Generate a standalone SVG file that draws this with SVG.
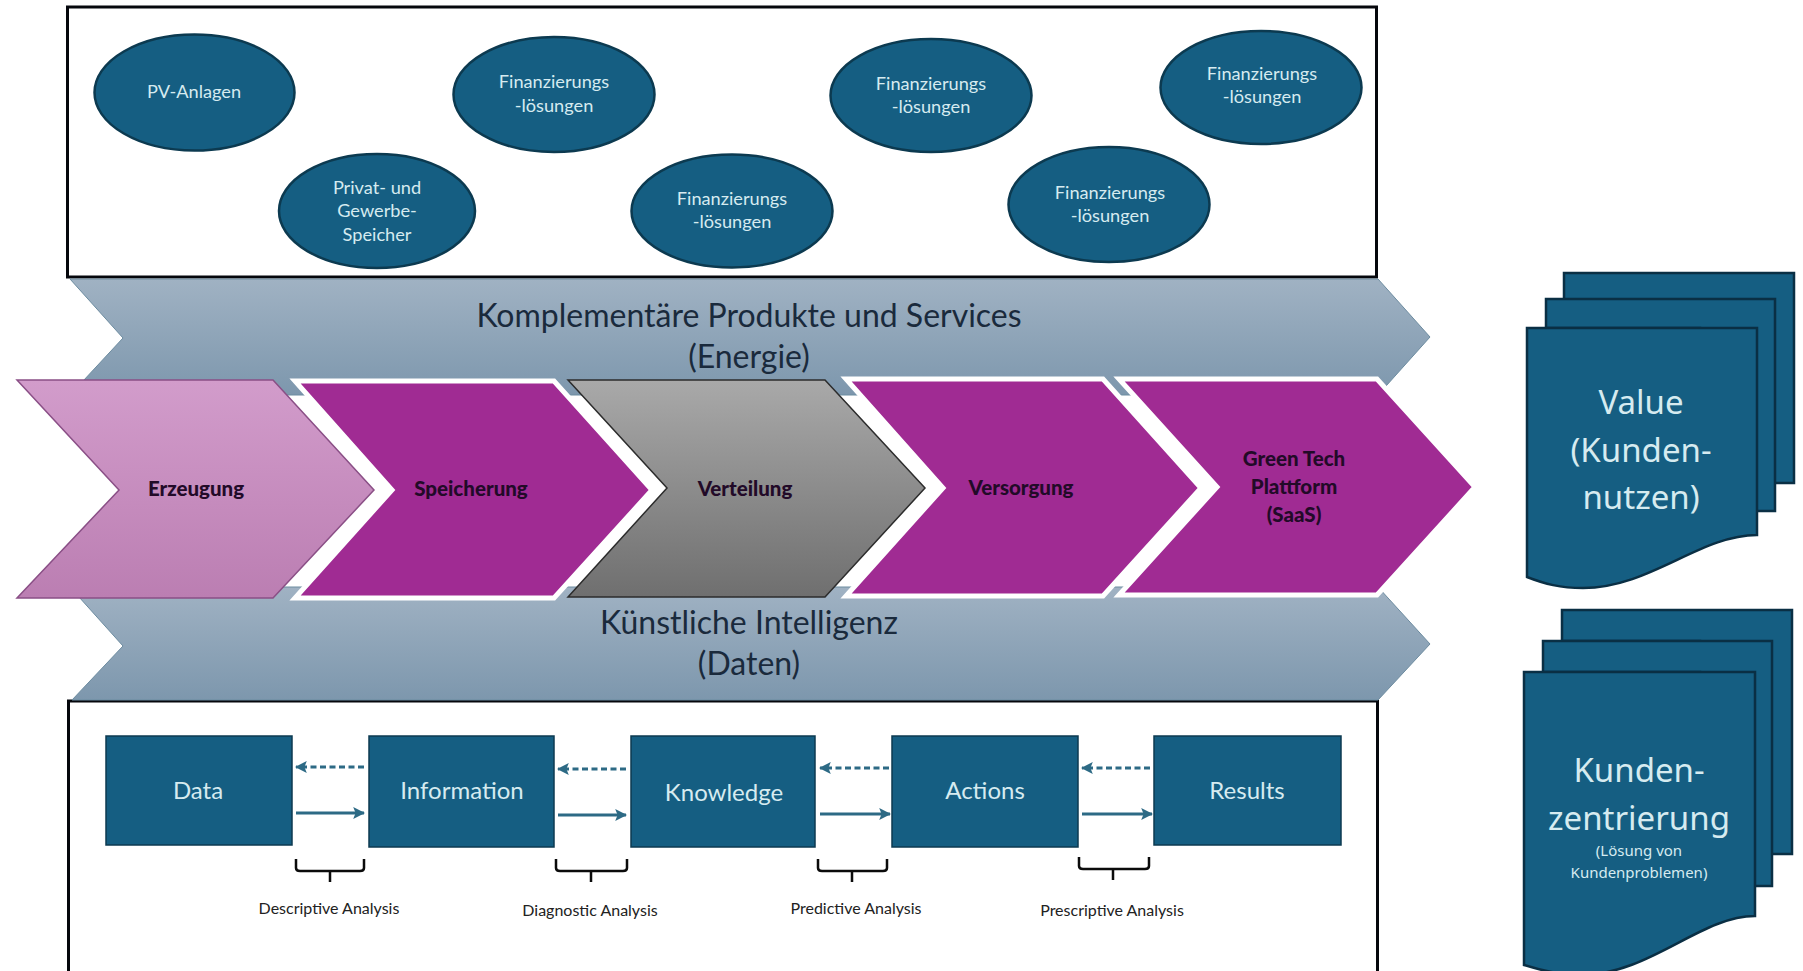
<svg xmlns="http://www.w3.org/2000/svg" width="1803" height="971" viewBox="0 0 1803 971">
<defs>
<linearGradient id="band" x1="0" y1="0" x2="0" y2="1"><stop offset="0" stop-color="#a0b2c3"/><stop offset="1" stop-color="#7d97ad"/></linearGradient>
<linearGradient id="pink" x1="0" y1="0" x2="0" y2="1"><stop offset="0" stop-color="#d29ccb"/><stop offset="1" stop-color="#bb7eb2"/></linearGradient>
<linearGradient id="gray" x1="0" y1="0" x2="0" y2="1"><stop offset="0" stop-color="#a9a9a9"/><stop offset="1" stop-color="#6f6f6f"/></linearGradient>
<marker id="ah" viewBox="0 0 10 10" refX="9" refY="5" markerWidth="4" markerHeight="5" orient="auto-start-reverse"><path d="M0 0L10 5L0 10L2 5Z" fill="#2d6a85"/></marker>
</defs>
<style>
text{font-family:Lato,"Noto Sans",sans-serif;text-anchor:middle}
.frame{fill:#fff;stroke:#05070c;stroke-width:3}
.el{fill:#155e82;stroke:#0c3a50;stroke-width:2.500}
.et{font-size:18.200px;fill:#d6ebf0}
.box{fill:#155e82;stroke:#0c3a50;stroke-width:1.500}
.bt{font-size:24px;fill:#d6ebf0}
.big{font-size:32px;fill:#1a2a3c}
.band{fill:url(#band);stroke:#6d8ca0;stroke-width:1}
.pur{fill:#a02b93;stroke:#fff;stroke-width:5}
.ct{font-size:20.500px;font-weight:900;fill:#220a28}
.doc{fill:#155e82;stroke:#0a2f44;stroke-width:2.500}
.dt{font-size:33px;fill:#d6ebf0;font-family:"Noto Sans",sans-serif}
.ds{font-size:15px;fill:#d6ebf0;font-family:"Noto Sans",sans-serif}
.lab{font-size:16px;fill:#222}
.sol{fill:none;stroke:#2d6a85;stroke-width:3;marker-end:url(#ah)}
.das{fill:none;stroke:#2d6a85;stroke-width:3;stroke-dasharray:6 3.500;marker-end:url(#ah)}
.br{fill:none;stroke:#0b0b0b;stroke-width:2.500}
</style>
<g id="frame-top"><rect class="frame" x="67.500" y="7" width="1309" height="270"/></g>
<g id="frame-bottom"><rect class="frame" x="68.500" y="701" width="1309" height="290"/></g>
<g id="band-energie"><path class="band" d="M70 279H1378L1430 337L1378 395H70L123 338Z"/><text class="big" x="749" y="327">Komplementäre Produkte und Services</text><text class="big" x="749" y="368">(Energie)</text></g>
<g id="band-daten"><path class="band" d="M70 587H1378L1430 644L1378 700H72L123 646Z"/><text class="big" x="749" y="634">Künstliche Intelligenz</text><text class="big" x="749" y="675">(Daten)</text></g>
<g id="e-pv"><ellipse class="el" cx="194.500" cy="92.500" rx="100" ry="58"/><text class="et" x="194" y="98">PV-Anlagen</text></g>
<g id="e-privat"><ellipse class="el" cx="377" cy="211" rx="98" ry="57"/><text class="et" x="377" y="194">Privat- und</text><text class="et" x="377" y="217">Gewerbe-</text><text class="et" x="377" y="241">Speicher</text></g>
<g id="e-fin1"><ellipse class="el" cx="554" cy="94.500" rx="100.500" ry="57.500"/><text class="et" x="554" y="88">Finanzierungs</text><text class="et" x="554" y="112">-lösungen</text></g>
<g id="e-fin2"><ellipse class="el" cx="732" cy="211" rx="100.500" ry="56.500"/><text class="et" x="732" y="205">Finanzierungs</text><text class="et" x="732" y="228">-lösungen</text></g>
<g id="e-fin3"><ellipse class="el" cx="931" cy="95.500" rx="100.500" ry="56.500"/><text class="et" x="931" y="90">Finanzierungs</text><text class="et" x="931" y="113">-lösungen</text></g>
<g id="e-fin4"><ellipse class="el" cx="1109" cy="204.500" rx="100.500" ry="57.500"/><text class="et" x="1110" y="199">Finanzierungs</text><text class="et" x="1110" y="222">-lösungen</text></g>
<g id="e-fin5"><ellipse class="el" cx="1261" cy="87.500" rx="100.500" ry="56.500"/><text class="et" x="1262" y="80">Finanzierungs</text><text class="et" x="1262" y="103">-lösungen</text></g>
<g id="c-erzeugung"><path d="M17 380H273L374 490L273 598H17L119 490Z" fill="url(#pink)" stroke="#8a4f86" stroke-width="1.500"/><text class="ct" x="196" y="496">Erzeugung</text></g>
<g id="c-speicherung"><path class="pur" d="M295 381H554L652 490L554 598H295L392 490Z"/><text class="ct" x="471" y="496">Speicherung</text></g>
<g id="c-verteilung"><path d="M568 380H825L925 488L825 597H568L667 488Z" fill="url(#gray)" stroke="#2c2c2c" stroke-width="1.500"/><text class="ct" x="745" y="496">Verteilung</text></g>
<g id="c-versorgung"><path class="pur" d="M846 379H1103L1201 488L1103 596H846L943 488Z"/><text class="ct" x="1021" y="495">Versorgung</text></g>
<g id="c-green"><path class="pur" d="M1119 379H1377L1475 487L1377 595H1119L1217 487Z"/><text class="ct" x="1294" y="466">Green Tech</text><text class="ct" x="1294" y="494">Plattform</text><text class="ct" x="1294" y="522">(SaaS)</text></g>
<g id="n-data"><rect class="box" x="106" y="736" width="186" height="109"/><text class="bt" x="198" y="799">Data</text></g>
<g id="n-information"><rect class="box" x="369" y="736" width="185" height="111"/><text class="bt" x="462" y="799">Information</text></g>
<g id="n-knowledge"><rect class="box" x="631" y="736" width="184" height="111"/><text class="bt" x="724" y="801">Knowledge</text></g>
<g id="n-actions"><rect class="box" x="892" y="736" width="186" height="111"/><text class="bt" x="985" y="799">Actions</text></g>
<g id="n-results"><rect class="box" x="1154" y="736" width="187" height="109"/><text class="bt" x="1247" y="799">Results</text></g>
<g id="connectors">
<path class="das" d="M364 767H296"/><path class="sol" d="M296 813H364"/>
<path class="das" d="M626 769H558"/><path class="sol" d="M558 815H626"/>
<path class="das" d="M889 768H820"/><path class="sol" d="M820 814H890"/>
<path class="das" d="M1150 768H1082"/><path class="sol" d="M1082 814H1152"/>
</g>
<g id="braces">
<path class="br" d="M296 859V868Q296 871 300 871H360Q364 871 364 868V859M330 871V882"/>
<path class="br" d="M556 859V868Q556 871 560 871H623Q627 871 627 868V859M591 871V882"/>
<path class="br" d="M818 859V868Q818 871 822 871H883Q887 871 887 868V859M852 871V882"/>
<path class="br" d="M1079 857V866Q1079 869 1083 869H1145Q1149 869 1149 866V857M1113 869V880"/>
</g>
<g id="l-desc"><text class="lab" x="329" y="914">Descriptive Analysis</text></g>
<g id="l-diag"><text class="lab" x="590" y="916">Diagnostic Analysis</text></g>
<g id="l-pred"><text class="lab" x="856" y="914">Predictive Analysis</text></g>
<g id="l-pres"><text class="lab" x="1112" y="916">Prescriptive Analysis</text></g>
<g id="doc-value">
<path class="doc" d="M1564 273H1794V483H1700V300H1564Z"/>
<path class="doc" d="M1546 299H1775V511H1700V328H1546Z"/>
<path class="doc" d="M1527 328H1757V535C1700 535 1650 588 1583 588C1560 588 1545 584 1527 577Z"/>
<text class="dt" x="1641" y="414">Value</text><text class="dt" x="1641" y="462">(Kunden-</text><text class="dt" x="1641" y="509">nutzen)</text>
</g>
<g id="doc-kunden">
<path class="doc" d="M1562 610H1792V854H1700V641H1562Z"/>
<path class="doc" d="M1543 641H1772V886H1700V672H1543Z"/>
<path class="doc" d="M1524 672H1755V916C1700 916 1650 975 1580 975C1560 975 1540 970 1524 965Z"/>
<text class="dt" x="1639" y="782">Kunden-</text><text class="dt" x="1639" y="830">zentrierung</text>
<text class="ds" x="1639" y="856">(Lösung von</text><text class="ds" x="1639" y="878">Kundenproblemen)</text>
</g>
</svg>
